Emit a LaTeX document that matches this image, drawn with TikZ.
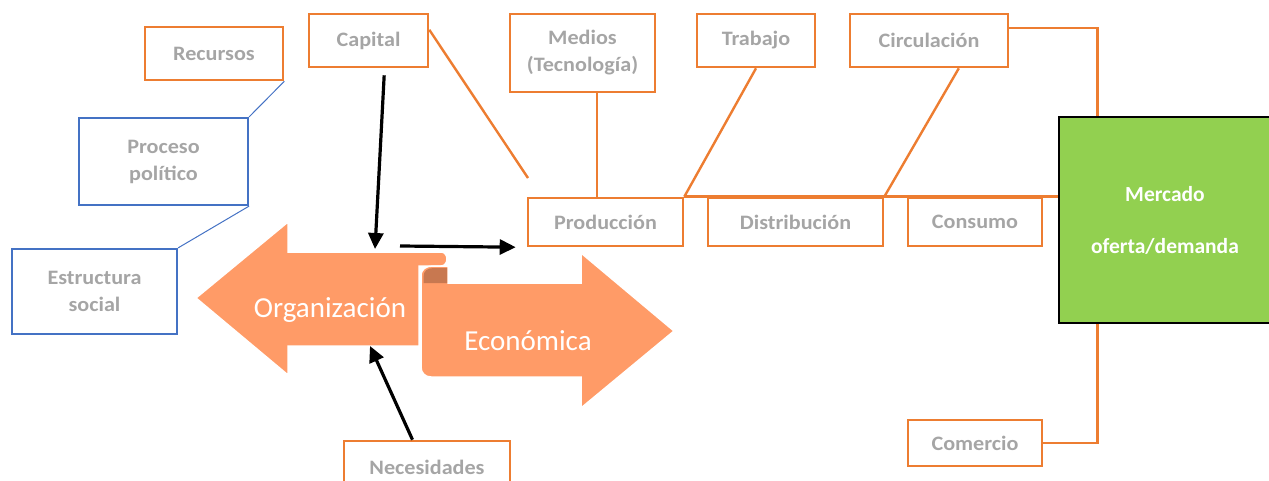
\documentclass[tikz,border=0pt]{standalone}
\usepackage{fontspec}
\setmainfont{Carlito}
\newfontfamily\boxfont{Carlito}[FakeStretch=1.08]
\usetikzlibrary{shapes, arrows.meta}
\definecolor{boxorange}{HTML}{ED7D31}
\definecolor{boxblue}{HTML}{4472C4}
\definecolor{labelgray}{HTML}{A5A5A5}
\definecolor{mercadogreen}{HTML}{92D050}
\definecolor{ribbonorange}{HTML}{FF9B67}
\definecolor{curlbrown}{HTML}{C87850}
\tikzstyle{labelbox} = [rectangle, draw=boxorange, line width=2.6pt, text=labelgray, font=\boxfont\bfseries\fontsize{20.5}{27}\selectfont, align=center, inner sep=0pt]
\tikzstyle{socialbox} = [labelbox, draw=boxblue, line width=2.2pt]
\tikzstyle{market} = [rectangle, draw=black, line width=2pt, fill=mercadogreen, text=white, font=\bfseries\fontsize{21.5}{27}\selectfont, align=center, inner sep=0pt]
\tikzstyle{link} = [draw=boxorange, line width=2.4pt]
\tikzstyle{thinlink} = [draw=boxblue, line width=1pt]
\tikzstyle{arrow} = [line width=3.2pt, -{Triangle[length=16pt,width=15pt]}]
\tikzstyle{ribbon} = [fill=ribbonorange, draw=white, line width=1.5pt]
\tikzstyle{ribbontext} = [text=white, font=\fontsize{29}{34}\selectfont]
\begin{document}
\begin{tikzpicture}[x=1pt, y=-1pt]
    \useasboundingbox (0,0) rectangle (1269,481);

    \filldraw [ribbon] (196,298) -- (288,222) -- (288,252) -- (441,252) .. controls (449,252) and (449,266) .. (441,266) -- (419,266) -- (419,346) -- (288,346) -- (288,375) -- cycle;
    \filldraw [ribbon] (421,276) .. controls (421,269) and (426,266) .. (433,266) -- (448,266) -- (448,283) -- (581,283) -- (581,253) -- (674,331) -- (581,408) -- (581,377) -- (431,377) .. controls (425,377) and (421,373) .. (421,367) -- cycle;
    \fill [curlbrown] (423.5,283) -- (423.5,277) .. controls (423.5,271) and (427,268) .. (434,268) -- (447.2,268) -- (447.2,283) -- cycle;
    \node (organizacion) [ribbontext] at (330,310) {Organización};
    \node (economica) [ribbontext] at (528,341) {Económica};
    \coordinate (orgtop) at (375,249);
    \coordinate (orgbot) at (370,346);
    \coordinate (flowstart) at (400,246);
    \coordinate (capend) at (528,178);

    \node (recursos) [labelbox, minimum width=138pt, minimum height=53pt] at (214,53.5) {Recursos};
    \node (capital) [labelbox, minimum width=119pt, minimum height=53pt] at (368.5,40.5) {Capital};
    \node (proceso) [socialbox, minimum width=169pt, minimum height=87pt] at (163.5,161.5) {Proceso\\político};
    \node (estructura) [socialbox, minimum width=165pt, minimum height=85pt] at (94.5,291.5) {Estructura\\social};
    \node (medios) [labelbox, minimum width=145pt, minimum height=78pt] at (582.5,53) {Medios\\(Tecnología)};
    \node (trabajo) [labelbox, minimum width=118pt, minimum height=53pt] at (756,40.5) {Trabajo};
    \node (circulacion) [labelbox, minimum width=158pt, minimum height=53pt] at (929,40.5) {Circulación};
    \node (produccion) [labelbox, minimum width=155pt, minimum height=48pt] at (605.5,222) {Producción};
    \node (distribucion) [labelbox, minimum width=175pt, minimum height=48pt] at (795.5,222) {Distribución};
    \node (consumo) [labelbox, minimum width=134pt, minimum height=48pt] at (975,222) {Consumo};
    \node (mercado) [market, minimum width=212pt, minimum height=206pt] at (1165,220) {Mercado\\[25pt]oferta/demanda};
    \node (comercio) [labelbox, minimum width=134pt, minimum height=46pt] at (975,443) {Comercio};
    \node (necesidades) [labelbox, minimum width=166pt, minimum height=52pt] at (427,467) {Necesidades};

    \draw [thinlink] (recursos.south east) -- (proceso.north east);
    \draw [thinlink] (proceso.south east) -- (estructura.north east);
    \draw [link] (capital.10) -- (capend);
    \draw [link] (medios.-70) -- (medios.-70 |- produccion.north);
    \draw [link] (trabajo.south) -- (produccion.north east);
    \draw [link] (circulacion.-43) -- (distribucion.north east);
    \draw [link] (produccion.north east) -- (produccion.north east -| mercado.west);
    \draw [link] (circulacion.9) -| (mercado.123);
    \draw [link] (mercado.237) |- (comercio.east);

    \draw [arrow, shorten <=7pt] (capital.-60) -- (orgtop);
    \draw [arrow, shorten >=11pt] (flowstart) -- (produccion.south west);
    \draw [arrow] (necesidades.118) -- (orgbot);
\end{tikzpicture}
\end{document}
